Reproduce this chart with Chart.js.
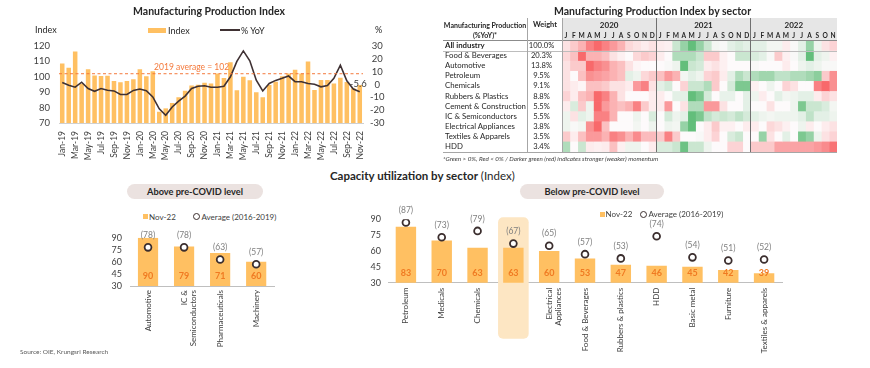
<!DOCTYPE html>
<html><head><meta charset="utf-8">
<script src="https://cdn.jsdelivr.net/npm/chart.js@4.4.0/dist/chart.umd.min.js"></script>
<style>
html,body{margin:0;padding:0;background:#fff;}
body{width:870px;height:368px;position:relative;overflow:hidden;font-family:Lato,"Open Sans",sans-serif;color:#262626;}
.abs{position:absolute;white-space:nowrap;line-height:1;}
canvas{position:absolute;}
.ln{position:absolute;}
.pill{position:absolute;background:#ebe2e0;border-radius:8px;}
</style></head><body>
<canvas id="cTop" width="420" height="165" style="left:0;top:0"></canvas>
<canvas id="cHeat" width="275" height="111" style="left:562px;top:41px"></canvas>
<canvas id="cAbove" width="180" height="136" style="left:100px;top:222px"></canvas>
<canvas id="cBelow" width="440" height="158" style="left:350px;top:205px"></canvas>
<script>
// ================= DATA =================
const months = ['Jan-19','Feb-19','Mar-19','Apr-19','May-19','Jun-19','Jul-19','Aug-19','Sep-19','Oct-19','Nov-19','Dec-19',
  'Jan-20','Feb-20','Mar-20','Apr-20','May-20','Jun-20','Jul-20','Aug-20','Sep-20','Oct-20','Nov-20','Dec-20',
  'Jan-21','Feb-21','Mar-21','Apr-21','May-21','Jun-21','Jul-21','Aug-21','Sep-21','Oct-21','Nov-21','Dec-21',
  'Jan-22','Feb-22','Mar-22','Apr-22','May-22','Jun-22','Jul-22','Aug-22','Sep-22','Oct-22','Nov-22'];
const mpiIndex = [108.6,105.9,116.4,95.5,104.9,100.8,100.6,100.7,97.3,96.5,97.3,98.4,
  104.9,100.4,103.6,77.3,79.5,83.0,86.8,90.9,94.4,94.8,96.1,95.7,
  102.2,99.3,109.5,91.3,100.1,97.8,89.9,86.8,94.6,96.8,100.3,102.2,
  104.5,102.2,109.9,91.4,97.9,97.9,95.7,99.4,96.7,92.6,94.7];
const mpiYoY = [1.6,-0.5,-2.1,1.8,-3.1,-5.3,-3.1,-4.5,-5.0,-7.8,-7.8,-4.6,
  -3.5,-4.8,-9.7,-19.0,-24.0,-17.5,-13.0,-9.0,-3.1,-1.3,-1.0,-2.1,
  -2.1,-1.3,6.0,18.0,26.2,18.5,3.4,-5.0,0.8,3.2,4.8,6.6,
  2.2,2.2,0.8,0.2,-1.8,-0.8,4.8,15.0,2.9,-3.5,-5.6];
const mpiAvg2019 = 102;
const indexTicks = [70,80,90,100,110,120];
const yoyTicks = [-30,-20,-10,0,10,20,30];

const sectors = ['All industry','Food & Beverages','Automotive','Petroleum','Chemicals','Rubbers & Plastics',
  'Cement & Construction','IC & Semiconductors','Electrical Appliances','Textiles & Apparels','HDD'];
const sectorWeights = ['100.0%','20.3%','13.8%','9.5%','9.1%','8.8%','5.5%','5.5%','3.8%','3.5%','3.4%'];
const heatYears = ['2020','2021','2022'];
const heatMonths = ['J','F','M','A','M','J','J','A','S','O','N','D',
  'J','F','M','A','M','J','J','A','S','O','N','D',
  'J','F','M','A','M','J','J','A','S','O','N'];
// momentum score per month (-3 strong red ... +3 strong green)
const heatAllIndustry = [-0.5,-1,-1.5,-2.5,-3,-2.5,-2,-1.5,-0.7,-0.5,-0.3,-0.5, -0.3,-0.2,1,2,3,2,1,0.2,0.1,0.5,0.7,0.5, 0.5,0.5,0.2,0.2,-0.3,0.1,0.5,2,0.3,-0.5,-0.8];
const heatFood = [-0.7,-1.2,-3,-1.5,-1.5,-1.2,-0.5,-0.2,0,-0.7,-1,-0.8, -0.3,0,1.5,1.5,1.5,1,-1,-1,-0.2,0,1,1, 0.7,0.5,0.1,-1,-0.2,0.1,0.5,3,0.5,0.3,-0.2];
const heatAutomotive = [-0.5,-1,-1,-3,-2.5,-2.2,-1.5,-1.2,-0.5,-0.1,0,0, 0,0.1,0.3,3,1,0.8,-0.3,-0.5,-0.2,0,0,0, 0.1,0,0,0,-0.3,0,0.3,0.5,0.3,0.1,0.1];
const heatPetroleum = [-0.5,0,-1.2,-2.2,-2,-1.8,-1.5,-1.2,0.5,0.3,-0.7,-1, -1.2,-2,-1.5,0.2,0.5,0.3,-0.8,-1,-0.3,0.5,1.5,1, 1.5,1.8,1.8,1.2,1.2,1.5,1.5,1.8,2.2,-1,-2.2];
const heatChemicals = [-0.5,-0.3,-0.1,-1.2,-1.2,-1,-0.5,-0.5,-0.3,-2,-2.5,-0.5, 0.5,0.8,0,-0.8,1,1,1.5,-1,0,0.8,2.5,2.5, -0.2,0,0.3,0,-0.8,-0.5,0,0,-2.5,-3,-2.2];
const heatRubbers = [-0.8,-0.3,-1.2,-1.5,-3,-2.5,-1.5,-0.5,0,0,0,-0.3, -0.3,0,0.5,0.5,3,2.5,0.8,0,0.4,0.4,0,0.5, 0.3,-0.3,0,0.5,0.2,0.3,0.5,0.5,-0.3,-0.8,-0.5];
const heatCement = [-0.3,0.7,-1,0.3,-3,-2,-1.5,-1.2,-1.5,-2.5,-1,-0.3, -0.3,-2,0,-0.5,1.5,1.5,-2,-2,-0.5,0,0,0.5, 0,0,-0.5,0,0,0.3,2.5,1,1,0.7,0.2];
const heatIC = [0.3,-0.5,0.5,0.3,-2.5,-2.5,-1.5,0,0,0.3,0,0.7, 0,0.8,0.3,0.5,3,2.5,1.2,0.8,1,0.8,1.2,0.8, 0.5,0.3,0.2,0.3,0.3,0.3,0.5,1.2,0.5,0.5,0.3];
const heatElectrical = [0.3,0.1,0.2,-2.2,-3,-1.2,0,0,0,0.2,0,0.3, 0,0.3,0.2,2,3,0,-0.3,-1,-0.2,-0.2,0,-0.3, -0.3,0,-0.7,-0.5,-0.2,0,0.3,-0.3,0,-0.3,-0.5];
const heatTextiles = [-1,-0.3,-1.2,-2,-2,-1.5,-2.5,-2.2,-1.5,-2.3,-1.3,-1.3, -1,-2.5,-1,0,0,0.1,-0.3,-0.8,0,0.7,1,0, 0,2,-0.5,0,0.5,0,2.5,2,0.3,-0.5,-0.8];
const heatHDD = [1.5,0,1,-0.3,-0.2,-0.3,-1.2,-0.2,0.3,0.3,0,-0.3, 0.7,0.7,1,2.8,1,1,0.3,0,0,-0.8,-0.8,0, -1,-1,-1,-1.8,-1.8,-1.8,-1.8,-1.8,-2,-2.3,-2.8];

const aboveSectors = ['Automotive',['IC &','Semiconductors'],'Pharmaceuticals','Machinery'];
const aboveNov22 = [90,79,71,60];
const aboveAvg = [78,78,63,57];
const belowSectors = ['Petroleum','Medicals','Chemicals','All Industry',['Electrical','Appliances'],'Food & Beverages',
  'Rubbers & plastics','HDD','Basic metal','Furniture','Textiles & apparels'];
const belowNov22 = [83,70,63,63,60,53,47,46,45,42,39];
const belowAvg = [87,73,79,67,65,57,53,74,54,51,52];
const capTicks = [30,45,60,75,90];

// ================= STYLE =================
const FONT = 'Lato, "Open Sans", sans-serif';
const BAR = '#FFC062';
const LINE = '#3f3133';
const ORANGE = '#F07A22';
Chart.defaults.font.family = FONT;
Chart.defaults.color = '#404040';
Chart.defaults.animation = false;

function addText(str, x, y, o = {}) {
  const d = document.createElement('div');
  d.className = 'abs';
  if (o.html) d.innerHTML = str; else d.textContent = str;
  const s = d.style;
  s.fontFamily = FONT;
  s.fontSize = (o.size || 9) + 'px';
  s.fontWeight = o.weight || 400;
  s.fontStyle = o.italic ? 'italic' : 'normal';
  s.color = o.color || '#262626';
  s.left = x + 'px'; s.top = y + 'px';
  const ax = o.align === 'center' ? '-50%' : o.align === 'right' ? '-100%' : '0';
  s.transform = `translate(${ax},-50%)`;
  document.body.appendChild(d);
  return d;
}
function addBox(x, y, w, h, bg, cls) {
  const d = document.createElement('div');
  d.className = cls || 'ln';
  Object.assign(d.style, {left: x + 'px', top: y + 'px', width: w + 'px', height: h + 'px', background: bg});
  document.body.appendChild(d);
  return d;
}

// ================= TOP-LEFT: MPI =================
addText('Manufacturing Production Index', 209, 10.5, {size: 10.5, weight: 700, align: 'center'});
addText('Index', 35, 28.5, {size: 9});
addText('%', 375, 29, {size: 9});
addBox(148, 27.5, 18, 5, BAR);
addText('Index', 168, 30, {size: 9});
addBox(220, 29.3, 20, 1.8, LINE);
addText('% YoY', 241, 30, {size: 9});

const topExtras = {
  id: 'topExtras',
  afterDatasetsDraw(chart) {
    const {ctx, chartArea} = chart;
    const yL = chart.scales.yL, yR = chart.scales.yR, x = chart.scales.x;
    const py = yL.getPixelForValue(mpiAvg2019);
    ctx.save();
    ctx.strokeStyle = '#F4793B'; ctx.lineWidth = 1; ctx.setLineDash([3, 2.5]);
    ctx.beginPath(); ctx.moveTo(chartArea.left, py); ctx.lineTo(chartArea.right, py); ctx.stroke();
    ctx.setLineDash([]);
    ctx.fillStyle = '#F4793B'; ctx.font = '8.5px ' + FONT; ctx.textAlign = 'center'; ctx.textBaseline = 'middle';
    ctx.fillText('2019 average = ' + mpiAvg2019, x.getPixelForValue(20), py - 6.5);
    const last = mpiYoY.length - 1;
    ctx.fillStyle = '#404040'; ctx.font = '9.5px ' + FONT;
    ctx.fillText(String(mpiYoY[last]), x.getPixelForValue(last) - 1.5, yR.getPixelForValue(mpiYoY[last]) - 7.5);
    ctx.restore();
  }
};

new Chart(document.getElementById('cTop'), {
  data: {
    labels: months,
    datasets: [
      {type: 'line', label: '% YoY', data: mpiYoY, yAxisID: 'yR', borderColor: LINE, borderWidth: 1.6, pointRadius: 0, tension: 0, fill: false},
      {type: 'bar', label: 'Index', data: mpiIndex, yAxisID: 'yL', backgroundColor: BAR, barPercentage: 0.7, categoryPercentage: 1}
    ]
  },
  options: {
    responsive: false, animation: false,
    layout: {padding: {top: 46, left: 0, right: 0, bottom: 0}},
    plugins: {legend: {display: false}, tooltip: {enabled: false}},
    scales: {
      x: {grid: {display: false, drawTicks: false}, border: {display: true, color: '#d0d0d0'},
          ticks: {autoSkip: false, maxRotation: 90, minRotation: 90, padding: 8, font: {size: 8.5}, color: '#404040',
                  callback: (v, i) => i % 2 === 0 ? months[i] : ''},
          afterFit: s => { s.height = 42; }},
      yL: {position: 'left', min: indexTicks[0], max: indexTicks[indexTicks.length - 1],
           afterBuildTicks: s => { s.ticks = indexTicks.map(v => ({value: v})); },
           ticks: {autoSkip: false, padding: 9, font: {size: 9.5}, color: '#404040'},
           grid: {display: false, drawTicks: false}, border: {display: false},
           afterFit: s => { s.width = 59; }},
      yR: {position: 'right', min: yoyTicks[0], max: yoyTicks[yoyTicks.length - 1],
           afterBuildTicks: s => { s.ticks = yoyTicks.map(v => ({value: v})); },
           ticks: {autoSkip: false, padding: 7, font: {size: 9.5}, color: '#404040', crossAlign: 'center'},
           grid: {display: false, drawTicks: false}, border: {display: false},
           afterFit: s => { s.width = 57; }}
    }
  },
  plugins: [topExtras]
});

// ================= TOP-RIGHT: HEATMAP =================
addText('Manufacturing Production Index by sector', 652.5, 10.5, {size: 10.5, weight: 700, align: 'center'});
const HX = 562, HW = 275, HY = 41, HH = 111;
const colW = HW / heatMonths.length, rowH = HH / sectors.length;
addBox(HX, 18, HW, 22, '#e6e6e6');
addText('Manufacturing Production', 485, 25, {size: 7, weight: 700, align: 'center'});
addText('(%YoY)*', 485, 34.5, {size: 7, weight: 700, align: 'center'});
addText('Weight', 545, 24.5, {size: 7.4, weight: 700, align: 'center'});
heatYears.forEach((yr, k) => {
  const n = Math.min(12, heatMonths.length - 12 * k);
  addText(yr, HX + colW * (12 * k + n / 2), 25, {size: 8, weight: 700, align: 'center'});
});
heatMonths.forEach((m, c) => addText(m, HX + colW * (c + 0.5), 34.8, {size: 6.6, weight: 700, align: 'center'}));
sectors.forEach((s, r) => {
  const cy = HY + rowH * (r + 0.5);
  addText(s, 445, cy, {size: 7.8, weight: r === 0 ? 700 : 400});
  addText(sectorWeights[r], 541.5, cy, {size: 7.6, align: 'center'});
});
addText('*Green &gt; 0%, Red &lt; 0% / Darker green (red) indicates stronger (weaker) momentum', 443, 158.5, {size: 6.3, italic: true, html: true, color: '#404040'});

const heatRows = [heatAllIndustry, heatFood, heatAutomotive, heatPetroleum, heatChemicals, heatRubbers,
  heatCement, heatIC, heatElectrical, heatTextiles, heatHDD];
function heatColor(v) {
  const t = Math.min(Math.abs(v) / 3, 1);
  const w = [253, 250, 251];
  const e = v < 0 ? [248, 105, 107] : [99, 190, 123];
  const c = w.map((wv, i) => Math.round(wv + (e[i] - wv) * t));
  return `rgb(${c[0]},${c[1]},${c[2]})`;
}
new Chart(document.getElementById('cHeat'), {
  type: 'bar',
  data: {
    labels: sectors,
    datasets: heatMonths.map((m, c) => ({
      label: m + c,
      data: sectors.map(() => 1),
      backgroundColor: heatRows.map(row => heatColor(row[c])),
      borderWidth: 0, barPercentage: 1, categoryPercentage: 1
    }))
  },
  options: {
    indexAxis: 'y', responsive: false, animation: false,
    layout: {padding: 0},
    plugins: {legend: {display: false}, tooltip: {enabled: false}},
    scales: {x: {stacked: true, display: false, min: 0, max: heatMonths.length}, y: {stacked: true, display: false}}
  }
});
// table rules
addBox(443, 40, HX + HW - 443, 1, '#8c8c8c');
addBox(443, HY + rowH - 0.5, HX + HW - 443, 1, '#bdbdbd');
addBox(443, HY + HH, HX + HW - 443, 1, '#a6a6a6');
addBox(527, 18, 1, HY + HH - 18, '#a6a6a6');
addBox(HX - 0.5, 18, 1, HY + HH - 18, '#a6a6a6');
addBox(HX + colW * 12 - 0.5, 18, 1.2, HY + HH - 18, '#707070');
addBox(HX + colW * 24 - 0.5, 18, 1.2, HY + HH - 18, '#707070');

// ================= BOTTOM: CAPACITY =================
addText('<b>Capacity utilization by sector</b> (Index)', 330, 175.5, {size: 11.5, html: true});
addBox(127, 184, 136, 15, '#ebe2e0', 'pill');
addText('Above pre-COVID level', 195, 191.5, {size: 9.2, weight: 700, align: 'center'});
addBox(520, 184, 144, 15, '#ebe2e0', 'pill');
addText('Below pre-COVID level', 592, 191.5, {size: 9.2, weight: 700, align: 'center'});
function legend(x0, cy, xc) {
  addBox(x0, cy - 2.5, 5, 5, BAR);
  addText('Nov-22', x0 + 6, cy, {size: 8, color: '#404040'});
  const c = addBox(xc - 3.5, cy - 3.5, 7, 7, '#fff');
  c.style.boxSizing = 'border-box'; c.style.border = '1.8px solid #3b2e2e'; c.style.borderRadius = '50%';
  addText('Average (2016-2019)', xc + 5, cy, {size: 8, color: '#404040'});
}
legend(143, 216.7, 196.5);
legend(599.5, 214.3, 643.5);
addText('Source:  OIE, Krungsri Research', 20, 351.7, {size: 6.5, color: '#595959'});

function capLabels(vals, avgs) {
  return {
    id: 'capLabels',
    afterDatasetsDraw(chart) {
      const {ctx} = chart; const x = chart.scales.x, y = chart.scales.y;
      ctx.save();
      ctx.textAlign = 'center'; ctx.textBaseline = 'middle';
      ctx.font = 'bold 9px ' + FONT; ctx.fillStyle = ORANGE;
      vals.forEach((v, i) => ctx.fillText(String(v), x.getPixelForValue(i), y.bottom - 10));
      ctx.font = '8.5px ' + FONT; ctx.fillStyle = '#7f7f7f';
      avgs.forEach((a, i) => ctx.fillText('(' + a + ')', x.getPixelForValue(i), y.getPixelForValue(a) - 12));
      ctx.restore();
    }
  };
}
const highlight = {
  id: 'highlight',
  beforeDatasetsDraw(chart) {
    const {ctx, chartArea} = chart; const x = chart.scales.x;
    const idx = belowSectors.indexOf('All Industry');
    const cx = x.getPixelForValue(idx), w = 30.6;
    ctx.save();
    ctx.fillStyle = '#FDE6C3';
    ctx.beginPath();
    ctx.roundRect(cx - w / 2, chartArea.top - 2, w, chartArea.bottom - chartArea.top + 58, 5);
    ctx.fill();
    ctx.restore();
  }
};
function capChart(id, labels, vals, avgs, opt) {
  return new Chart(document.getElementById(id), {
    data: {
      labels,
      datasets: [
        {type: 'line', label: 'Average (2016-2019)', data: avgs, showLine: false, pointStyle: 'circle', pointRadius: 3.4,
         pointBorderWidth: 1.8, pointBorderColor: '#3b2e2e', pointBackgroundColor: '#fff'},
        {type: 'bar', label: 'Nov-22', data: vals, backgroundColor: BAR, barPercentage: opt.bp, categoryPercentage: 1}
      ]
    },
    options: {
      responsive: false, animation: false,
      layout: {padding: {top: opt.top, right: opt.right, left: 0, bottom: 0}},
      plugins: {legend: {display: false}, tooltip: {enabled: false}},
      scales: {
        x: {grid: {display: false, drawTicks: false}, border: {display: true, color: '#bfbfbf'},
            ticks: {autoSkip: false, maxRotation: 90, minRotation: 90, padding: opt.xpad, font: {size: 8}, color: '#404040'},
            afterFit: s => { s.height = opt.xh; }},
        y: {min: capTicks[0], max: capTicks[capTicks.length - 1],
            afterBuildTicks: s => { s.ticks = capTicks.map(v => ({value: v})); },
            ticks: {autoSkip: false, padding: opt.ypad, font: {size: 9}, color: '#404040'},
            grid: {display: false, drawTicks: false}, border: {display: false},
            afterFit: s => { s.width = opt.yw; }}
      }
    },
    plugins: opt.plugins
  });
}
capChart('cAbove', aboveSectors, aboveNov22, aboveAvg,
  {bp: 0.56, top: 15.7, right: 3, xh: 72, yw: 30, ypad: 8, xpad: 4, plugins: [capLabels(aboveNov22, aboveAvg)]});
capChart('cBelow', belowSectors, belowNov22, belowAvg,
  {bp: 0.57, top: 14.3, right: 8, xh: 80.3, yw: 38, ypad: 7, xpad: 5, plugins: [highlight, capLabels(belowNov22, belowAvg)]});
</script>
</body></html>
